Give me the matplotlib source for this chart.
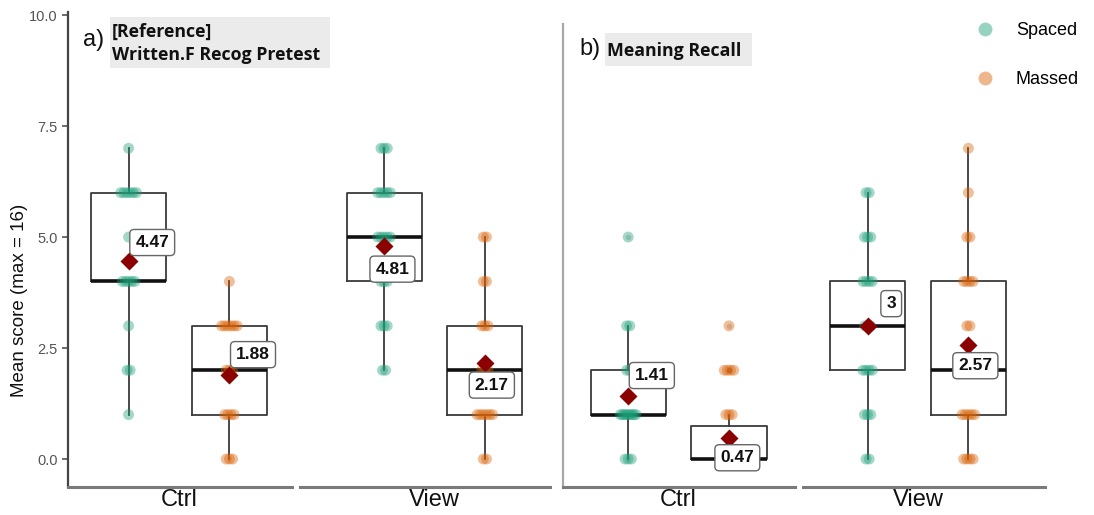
import matplotlib.pyplot as plt
import numpy as np
from matplotlib.lines import Line2D
from matplotlib.patches import Rectangle

plt.rcParams["font.family"] = ["Liberation Sans", "DejaVu Sans"]

# scores per panel -> condition -> group
conditions = ["Ctrl", "View"]
groups = ["Spaced", "Massed"]
panel_tags = ["a)", "b)"]
panel_titles = ["[Reference]\nWritten.F Recog Pretest", "Meaning Recall"]

recog_ctrl_spaced = [1, 2, 2, 3, 4, 4, 4, 4, 4, 5, 6, 6, 6, 6, 6, 6, 7]
recog_ctrl_massed = [0, 0, 0, 1, 1, 1, 1, 2, 2, 2, 3, 3, 3, 3, 3, 3, 4]
recog_view_spaced = [2, 2, 3, 3, 3, 4, 4, 4, 5, 5, 5, 5, 5, 6, 6, 6, 6, 6, 7, 7, 7]
recog_view_massed = [0, 0, 1, 1, 1, 1, 1, 1, 2, 2, 2, 3, 3, 3, 4, 4, 5, 5]

recall_ctrl_spaced = [0, 0, 0, 1, 1, 1, 1, 1, 1, 1, 1, 1, 2, 2, 3, 3, 5]
recall_ctrl_massed = [0] * 22 + [1, 1, 1, 2, 2, 2, 2, 3]
recall_view_spaced = [0, 0, 1, 1, 1, 2, 2, 2, 2, 3, 3, 3, 4, 4, 4, 4, 5, 5, 5, 6, 6]
recall_view_massed = [0, 0, 0, 0, 1, 1, 1, 1, 1, 2, 2, 3, 3, 4, 4, 4, 4, 5, 5, 6, 7]

panels = [
    [[recog_ctrl_spaced, recog_ctrl_massed], [recog_view_spaced, recog_view_massed]],
    [[recall_ctrl_spaced, recall_ctrl_massed], [recall_view_spaced, recall_view_massed]],
]

colors = {"Spaced": "#1b9e77", "Massed": "#d95f02"}

# facet layout in pixels: (left, right, centre of the two boxes)
W, H = 1094, 515
facet_px = [[(68, 292, 179), (300, 550, 434.5)], [(563, 795, 678.6), (803, 1031, 918)]]
px_per_unit = 112
top_px, bottom_px = 12, 487
y_lo, y_hi = -0.63, 10.07
dodge = 0.45
box_w = 0.67

# mean label offsets (points) per panel/condition/group
label_offsets = [
    [[(17, 13), (17, 15)], [(6, -17), (5, -16)]],
    [[(17, 15), (6, -14)], [(17, 16), (5, -15)]],
]


def jitter(values, spread=0.014, cap=0.07):
    """Spread repeated values sideways so overlapping points stay visible."""
    values = np.asarray(values)
    offsets = np.zeros(len(values))
    for v in np.unique(values):
        idx = np.where(values == v)[0]
        k = len(idx)
        if k > 1:
            half = min(cap, spread * (k - 1))
            offsets[idx] = np.linspace(-half, half, k)
    return offsets


fig = plt.figure(figsize=(W / 100, H / 100), dpi=100)

for p, panel in enumerate(panels):
    for c, cond in enumerate(conditions):
        left, right, centre = facet_px[p][c]
        ax = fig.add_axes([left / W, 1 - bottom_px / H, (right - left) / W, (bottom_px - top_px) / H])
        ax.patch.set_alpha(0)

        positions = [-dodge, dodge]
        data = panel[c]
        ax.boxplot(
            data,
            positions=positions,
            widths=box_w,
            whis=1.5,
            showcaps=False,
            boxprops=dict(color="#3a3a3a", linewidth=1.3),
            whiskerprops=dict(color="#3a3a3a", linewidth=1.3),
            medianprops=dict(color="#111111", linewidth=2.6),
            flierprops=dict(marker="o", markersize=4, markerfacecolor="#555555",
                            markeredgecolor="none", alpha=0.25),
            zorder=2,
        )

        for g, grp in enumerate(groups):
            vals = np.asarray(data[g], dtype=float)
            xs = positions[g] + jitter(vals)
            ax.scatter(xs, vals, s=62, color=colors[grp], alpha=0.4,
                       edgecolors="none", zorder=3)

            m = vals.mean()
            ax.plot(positions[g], m, marker="D", markersize=9.5, color="#8b0000",
                    markeredgecolor="none", zorder=5)
            ax.annotate(
                f"{round(m, 2):g}",
                xy=(positions[g], m),
                xytext=label_offsets[p][c][g],
                textcoords="offset points",
                ha="center", va="center",
                fontsize=12.5, fontweight="bold", color="#111111",
                bbox=dict(boxstyle="round,pad=0.32,rounding_size=0.25",
                          fc="white", ec="#666666", lw=1.0),
                zorder=6,
            )

        ax.set_xlim(-(centre - left) / px_per_unit, (right - centre) / px_per_unit)
        ax.set_ylim(y_lo, y_hi)
        ax.set_xticks([])
        for s in ["top", "right"]:
            ax.spines[s].set_visible(False)
        ax.spines["bottom"].set_color("#7a7a7a")
        ax.spines["bottom"].set_linewidth(2.2)

        if c == 0:
            ax.spines["left"].set_linewidth(1.6)
            if p == 0:
                ax.spines["left"].set_color("#444444")
                ax.set_yticks([0, 2.5, 5, 7.5, 10])
                ax.set_yticklabels(["0.0", "2.5", "5.0", "7.5", "10.0"])
                ax.tick_params(axis="y", colors="#555555", labelsize=10.5, length=4, width=1.2)
                ax.spines["left"].set_bounds(y_lo, y_hi)
            else:
                ax.spines["left"].set_color("#a8a8a8")
                ax.spines["left"].set_bounds(y_lo, 9.8)
                ax.set_yticks([])
        else:
            ax.spines["left"].set_visible(False)
            ax.set_yticks([])

        fig.text(centre / W, 1 - 500 / H, cond, ha="center", va="center",
                 fontsize=17, color="#111111")

# small trailing axis segment at the bottom right
fig.add_artist(Line2D([1034 / W, 1045 / W], [1 - bottom_px / H] * 2,
                      color="#7a7a7a", linewidth=2.2))

fig.text(20 / W, 1 - 300 / H, "Mean score (max = 16)", rotation=90,
         ha="center", va="center", fontsize=13.5, color="#111111")

# panel tags and grey title boxes
title_boxes = [(110, 17, 330, 68), (605, 33, 752, 66)]
tag_pos = [(94, 40), (590, 49)]
for p in range(2):
    x0, y0, x1, y1 = title_boxes[p]
    fig.add_artist(Rectangle((x0 / W, 1 - y1 / H), (x1 - x0) / W, (y1 - y0) / H,
                             transform=fig.transFigure, facecolor="#ebebeb",
                             edgecolor="none", zorder=0))
    fig.text((x0 + 2) / W, 1 - ((y0 + y1) / 2 + 1) / H, panel_titles[p],
             ha="left", va="center", fontsize=12.8, fontweight="bold",
             family=["Open Sans", "DejaVu Sans"], linespacing=1.4, color="#111111")
    fig.text(tag_pos[p][0] / W, 1 - tag_pos[p][1] / H, panel_tags[p],
             ha="center", va="center", fontsize=17, color="#111111")

handles = [
    Line2D([], [], linestyle="none", marker="o", markersize=10,
           color=colors[g], alpha=0.45, markeredgecolor="none")
    for g in groups
]
fig.legend(handles, groups, loc="upper left", bbox_to_anchor=(958 / W, 1 - 6 / H),
           frameon=False, fontsize=13, labelspacing=1.75, handletextpad=1.1,
           handlelength=1.2)

fig.savefig("out.png", dpi=100)
